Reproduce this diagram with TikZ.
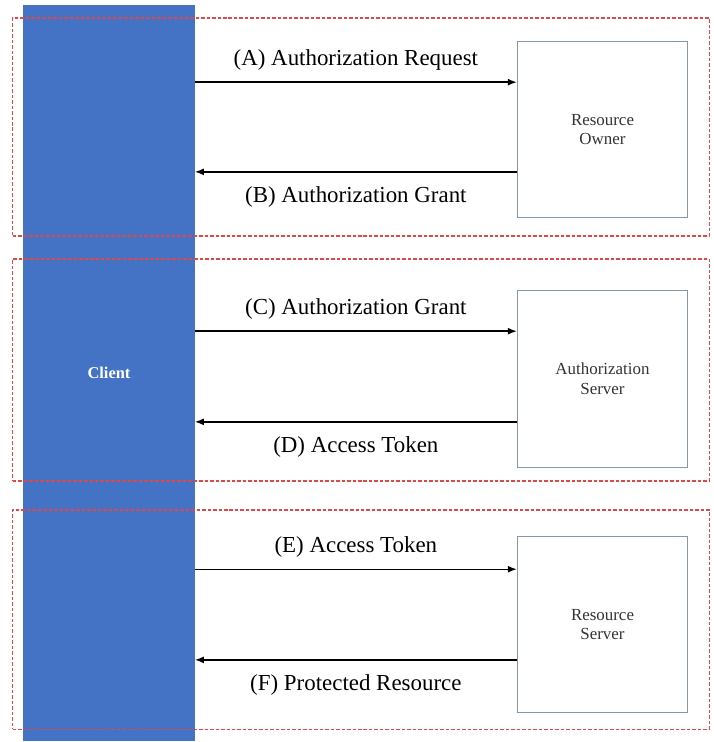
\documentclass[tikz,border=0pt]{standalone}
\usepackage{fontspec}
\setmainfont{Liberation Serif}
\usetikzlibrary{arrows.meta}

\definecolor{clientblue}{HTML}{4472C4}
\definecolor{framered}{HTML}{E04848}
\definecolor{boxedge}{HTML}{8497B0}
\definecolor{boxtext}{HTML}{333333}

\tikzstyle{client} = [rectangle, minimum width=172pt, minimum height=738pt, inner sep=0pt, fill=clientblue, draw=none, text=white, font=\fontsize{16.5}{20}\selectfont\bfseries]
\tikzstyle{frame} = [rectangle, minimum width=699pt, inner sep=0pt, draw=framered, dash pattern=on 3.5pt off 2pt, line width=1.2pt]
\tikzstyle{party} = [rectangle, minimum width=171pt, minimum height=177pt, inner sep=0pt, draw=boxedge, line width=1pt, fill=white, text=boxtext, align=center, font=\fontsize{17}{20}\selectfont]
\tikzstyle{flow} = [-{Latex[length=9pt,width=7pt]}, line width=1.4pt]
\tikzstyle{lblabove} = [anchor=base, yshift=17pt, font=\fontsize{23}{27}\selectfont]
\tikzstyle{lblbelow} = [anchor=base, yshift=-31pt, font=\fontsize{23}{27}\selectfont]

\begin{document}
\begin{tikzpicture}[x=1bp,y=-1bp]
\useasboundingbox (0,0) rectangle (714,742);

    \node[client] (client) at (109,373) {Client};

    \node[frame, minimum height=219pt] (f1) at (361,127) {};
    \node[frame, minimum height=223pt] (f2) at (361,370) {};
    \node[frame, minimum height=220pt] (f3) at (361,619.5) {};

    \node[party] (owner) at (602.5,129.5) {Resource\\Owner};
    \node[party, minimum height=178pt] (auth) at (602.5,379) {Authorization\\Server};
    \node[party] (server) at (602.5,624.5) {Resource\\Server};

    \coordinate (ownerin) at ([yshift=47.5pt]owner.west);
    \coordinate (ownerout) at ([yshift=-42.5pt]owner.west);
    \coordinate (authin) at ([yshift=48pt]auth.west);
    \coordinate (authout) at ([yshift=-43pt]auth.west);
    \coordinate (serverin) at ([yshift=55.5pt]server.west);
    \coordinate (serverout) at ([yshift=-35.5pt]server.west);

    \draw[flow] (client.east |- ownerin) -- node[lblabove] {(A) Authorization Request} (ownerin);
    \draw[flow] (ownerout) -- node[lblbelow] {(B) Authorization Grant} (client.east |- ownerout);

    \draw[flow] (client.east |- authin) -- node[lblabove] {(C) Authorization Grant} (authin);
    \draw[flow] (authout) -- node[lblbelow] {(D) Access Token} (client.east |- authout);

    \draw[flow] (client.east |- serverin) -- node[lblabove] {(E) Access Token} (serverin);
    \draw[flow] (serverout) -- node[lblbelow] {(F) Protected Resource} (client.east |- serverout);

\end{tikzpicture}
\end{document}
